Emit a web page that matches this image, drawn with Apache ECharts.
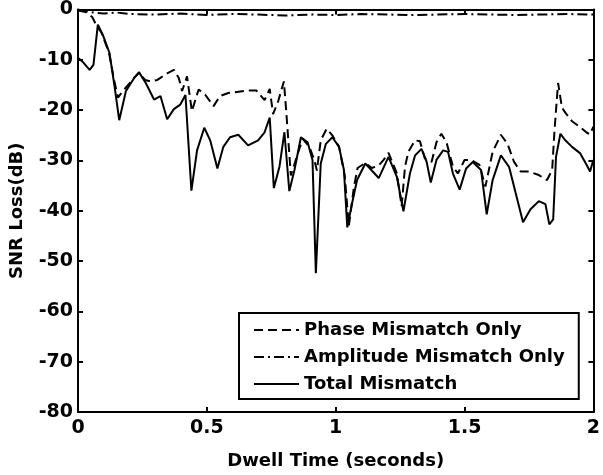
<!DOCTYPE html>
<html>
<head>
<meta charset="utf-8">
<script src="https://cdn.jsdelivr.net/npm/echarts@6/dist/echarts.min.js"></script>
<style>
  html, body { margin: 0; padding: 0; background: #fff; }
  #chart { width: 603px; height: 475px; }
</style>
</head>
<body>
<div id="chart"></div>
<script>
// Axis ticks
const xTicks = [0, 0.5, 1, 1.5, 2];
const yTicks = [0, -10, -20, -30, -40, -50, -60, -70, -80];

// Total mismatch: time (s) and SNR loss (dB)
const totalT = [0.000, 0.020, 0.045, 0.060, 0.077, 0.096, 0.122, 0.141, 0.160, 0.186,
  0.218, 0.237, 0.263, 0.295, 0.320, 0.346, 0.372, 0.397, 0.417, 0.440,
  0.462, 0.490, 0.513, 0.541, 0.564, 0.590, 0.622, 0.660, 0.699, 0.724,
  0.744, 0.760, 0.782, 0.801, 0.820, 0.840, 0.865, 0.891, 0.910, 0.923,
  0.942, 0.962, 0.987, 1.013, 1.032, 1.045, 1.064, 1.083, 1.115, 1.167,
  1.205, 1.237, 1.263, 1.288, 1.308, 1.333, 1.353, 1.369, 1.391, 1.417,
  1.436, 1.455, 1.481, 1.506, 1.532, 1.564, 1.586, 1.609, 1.641, 1.673,
  1.705, 1.727, 1.756, 1.788, 1.814, 1.829, 1.844, 1.855, 1.872, 1.891,
  1.917, 1.949, 1.974, 1.987, 2.000];
const totalDb = [-9.6, -10.5, -12.0, -11.0, -3.0, -5.0, -8.6, -15.0, -22.0, -16.2,
  -13.6, -12.5, -14.6, -17.9, -17.2, -21.8, -19.8, -18.9, -17.0, -36.0,
  -28.0, -23.5, -26.0, -31.6, -27.3, -25.4, -24.9, -27.0, -26.0, -24.4,
  -21.5, -35.5, -31.2, -24.4, -36.1, -31.9, -25.4, -26.4, -29.9, -52.4,
  -30.6, -26.7, -25.4, -27.3, -31.9, -43.3, -38.4, -33.9, -30.6, -33.5,
  -29.3, -33.2, -40.1, -32.6, -29.0, -27.7, -30.3, -34.4, -29.9, -28.0,
  -28.3, -32.6, -35.8, -31.6, -30.3, -31.9, -40.7, -33.9, -29.0, -31.3,
  -37.8, -42.3, -39.7, -38.1, -38.7, -42.7, -41.7, -29.3, -24.7, -26.0,
  -27.3, -28.6, -30.9, -32.2, -29.9];

// Phase mismatch only
const phaseT = [0.000, 0.030, 0.055, 0.075, 0.090, 0.120, 0.140, 0.155, 0.170, 0.186,
  0.218, 0.237, 0.260, 0.282, 0.308, 0.346, 0.372, 0.391, 0.404, 0.423,
  0.442, 0.468, 0.493, 0.526, 0.551, 0.583, 0.660, 0.692, 0.724, 0.744,
  0.757, 0.777, 0.799, 0.808, 0.826, 0.853, 0.872, 0.898, 0.917, 0.927,
  0.942, 0.965, 0.987, 1.013, 1.035, 1.051, 1.071, 1.085, 1.115, 1.140,
  1.167, 1.186, 1.205, 1.237, 1.256, 1.269, 1.282, 1.308, 1.327, 1.346,
  1.372, 1.391, 1.410, 1.430, 1.455, 1.474, 1.500, 1.526, 1.558, 1.581,
  1.609, 1.641, 1.667, 1.692, 1.718, 1.750, 1.788, 1.820, 1.840, 1.849,
  1.863, 1.878, 1.891, 1.917, 1.949, 1.975, 1.987, 2.000];
const phaseDb = [-0.2, -0.5, -1.5, -3.5, -4.5, -8.5, -14.0, -17.5, -16.5, -15.5,
  -13.6, -12.5, -14.0, -14.3, -14.0, -12.7, -12.0, -13.6, -16.2, -13.3,
  -20.2, -15.9, -16.9, -19.2, -17.2, -16.6, -16.1, -16.1, -18.0, -15.8,
  -20.8, -18.2, -14.3, -20.2, -33.0, -28.6, -25.7, -27.3, -29.9, -32.0,
  -26.0, -23.7, -25.0, -27.3, -33.0, -43.0, -35.2, -31.5, -30.5, -31.5,
  -31.0, -29.9, -28.5, -32.5, -39.1, -31.2, -28.3, -26.0, -26.2, -29.6,
  -30.3, -26.4, -24.7, -26.4, -31.2, -32.6, -29.9, -29.9, -30.9, -35.2,
  -28.3, -24.9, -26.7, -30.3, -32.2, -32.2, -32.9, -33.9, -31.9, -24.1,
  -14.6, -19.5, -20.5, -22.2, -23.4, -24.5, -24.8, -23.3];

// Amplitude mismatch only
const ampT = [0.00, 0.03, 0.06, 0.10, 0.15, 0.20, 0.30, 0.40, 0.50, 0.60, 0.70, 0.80,
  0.90, 1.00, 1.10, 1.20, 1.30, 1.40, 1.50, 1.60, 1.70, 1.80, 1.90, 2.00];
const ampDb = [0.0, -0.3, -0.6, -0.8, -0.6, -0.9, -1.0, -0.8, -1.1, -0.9, -1.0, -1.2,
  -1.0, -1.1, -0.9, -1.0, -1.1, -1.0, -0.9, -1.0, -1.1, -1.0, -0.9, -1.0];

const names = ['Phase Mismatch Only', 'Amplitude Mismatch Only', 'Total Mismatch'];

const pairs = (ts, vs) => ts.map((t, i) => [t, vs[i]]);

const FONT = 'DejaVu Sans';
const textBase = { fontFamily: FONT, fontWeight: 'bold', fontSize: 18, color: '#000' };
const tickText = { fontFamily: FONT, fontWeight: 'bold', fontSize: 19, color: '#000' };

const frameAxis = (extra) => Object.assign({
  type: 'value',
  axisLine: { show: true, onZero: false, lineStyle: { color: '#000', width: 2 } },
  axisTick: { show: true, inside: true, length: 5, lineStyle: { color: '#000', width: 2 } },
  splitLine: { show: false }
}, extra);

const chart = echarts.init(document.getElementById('chart'), null, { renderer: 'canvas' });

chart.setOption({
  animation: false,
  backgroundColor: '#fff',
  grid: { left: 75, right: 8, top: 7, bottom: 59, containLabel: false },
  xAxis: [
    frameAxis({
      position: 'bottom',
      min: xTicks[0], max: xTicks[xTicks.length - 1], interval: xTicks[1] - xTicks[0],
      axisLabel: Object.assign({ margin: 7 }, tickText),
      name: 'Dwell Time (seconds)',
      nameLocation: 'middle',
      nameGap: 40,
      nameTextStyle: textBase
    }),
    frameAxis({
      position: 'top',
      min: xTicks[0], max: xTicks[xTicks.length - 1], interval: xTicks[1] - xTicks[0],
      axisLabel: { show: false }
    })
  ],
  yAxis: [
    frameAxis({
      position: 'left',
      min: yTicks[yTicks.length - 1], max: yTicks[0], interval: yTicks[0] - yTicks[1],
      axisLabel: Object.assign({ margin: 5 }, tickText),
      name: 'SNR Loss(dB)',
      nameLocation: 'middle',
      nameGap: 52,
      nameTextStyle: textBase
    }),
    frameAxis({
      position: 'right',
      min: yTicks[yTicks.length - 1], max: yTicks[0], interval: yTicks[0] - yTicks[1],
      axisLabel: { show: false }
    })
  ],
  legend: {
    data: names,
    orient: 'vertical',
    left: 239,
    top: 313,
    itemWidth: 45,
    itemHeight: 14,
    itemGap: 9,
    padding: [8, 14, 6, 14],
    borderColor: '#000',
    borderWidth: 2,
    borderRadius: 0,
    backgroundColor: '#fff',
    selectedMode: false,
    itemStyle: { color: 'rgba(0,0,0,0)', borderColor: 'rgba(0,0,0,0)', borderWidth: 0 },
    textStyle: textBase
  },
  series: [
    {
      name: names[2], type: 'line', symbol: 'none', z: 2,
      data: pairs(totalT, totalDb),
      lineStyle: { color: '#000', width: 2, type: 'solid' }
    },
    {
      name: names[0], type: 'line', symbol: 'none', z: 3,
      data: pairs(phaseT, phaseDb),
      lineStyle: { color: '#000', width: 2, type: [9, 5] }
    },
    {
      name: names[1], type: 'line', symbol: 'none', z: 3,
      data: pairs(ampT, ampDb),
      lineStyle: { color: '#000', width: 2, type: [10, 4, 2, 4] }
    }
  ]
});
</script>
</body>
</html>
